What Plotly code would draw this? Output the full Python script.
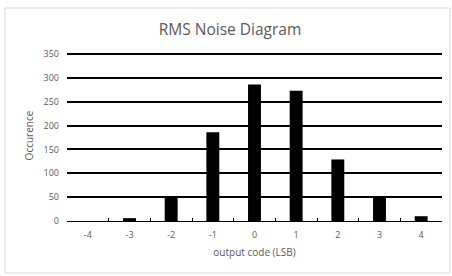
import plotly.graph_objects as go

codes = ["-4", "-3", "-2", "-1", "0", "1", "2", "3", "4"]
occurence = [0, 6, 52, 186, 286, 273, 129, 50, 10]
y_ticks = [0, 50, 100, 150, 200, 250, 300, 350]

W, H = 452, 276
L, R, T, B = 67, 10, 50, 55

fig = go.Figure(go.Bar(x=codes, y=occurence, marker=dict(color="black", line=dict(width=0)),
                       width=0.31))

font_fam = "Open Sans, Noto Sans, sans-serif"
gray = "#595959"

fig.update_layout(
    width=W, height=H,
    margin=dict(l=L, r=R, t=T, b=B, autoexpand=False),
    paper_bgcolor="white", plot_bgcolor="white",
    showlegend=False,
    title=dict(text="RMS Noise Diagram", x=230 / W, xanchor="center", xref="container",
               y=1 - 30 / H, yanchor="middle",
               font=dict(family=font_fam, size=15.5, color=gray)),
    font=dict(family=font_fam, size=9, color=gray),
)
fig.update_xaxes(
    type="category", tickson="boundaries", ticks="inside", ticklen=3, tickcolor="black",
    showline=True, linecolor="black", linewidth=1, showgrid=False, automargin=False,
    title=dict(text="output code (LSB)", font=dict(size=10, color=gray), standoff=9),
    tickfont=dict(size=9, color=gray), ticklabelstandoff=5,
)
fig.update_yaxes(
    range=[0, 358.4], tickvals=y_ticks, showgrid=True, gridcolor="black", gridwidth=1.5,
    showline=False, zeroline=False, ticks="", automargin=False,
    title=dict(text="Occurence", font=dict(size=10, color=gray), standoff=8),
    tickfont=dict(size=9, color=gray), ticklabelstandoff=7,
)
# chart border
fig.add_shape(type="rect", xref="paper", yref="paper",
              x0=(5 - L) / (W - L - R), x1=(450 - L) / (W - L - R),
              y0=-(273 - (H - B)) / (H - T - B), y1=1 + (T - 8) / (H - T - B),
              line=dict(color="#d9d9d9", width=1), layer="below")
fig.write_html("out.html", config={"displayModeBar": False},
               post_script="document.body.style.margin='0';")
